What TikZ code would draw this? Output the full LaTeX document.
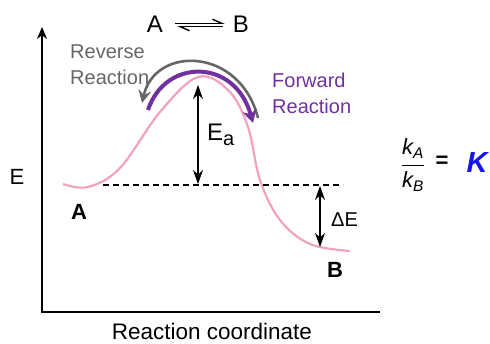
\documentclass[tikz,border=0pt]{standalone}
\usepackage{fontspec}
\setmainfont{Liberation Sans}
\usetikzlibrary{arrows.meta}
\definecolor{curvepink}{HTML}{F2A2C0}
\definecolor{revgray}{HTML}{666666}
\definecolor{fwdpurple}{HTML}{7030A0}
\definecolor{kblue}{HTML}{1414F0}
\newcommand{\fsz}[1]{\fontsize{#1}{#1}\selectfont}
\tikzset{
  txt/.style={inner sep=0pt, font=\fsz{20}},
  twoline/.style={txt, align=left, anchor=north west, font=\fontsize{20}{26}\selectfont},
  axisln/.style={line width=2.8pt},
  dbl/.style={{Stealth[length=14pt,width=10pt]}-{Stealth[length=14pt,width=10pt]}, line width=1.6pt},
  harp/.style={-{Straight Barb[left,length=9pt,width=8pt]}, line width=1.4pt},
  energy/.style={curvepink, line width=2.2pt},
  level/.style={dashed, dash pattern=on 6pt off 4pt, line width=2pt}}
\begin{document}
\begin{tikzpicture}[x=1pt, y=-1pt]
  \useasboundingbox (0,0) rectangle (490,344);
  \coordinate (ytip) at (42,27);
  \coordinate (origin) at (42,312);
  \coordinate (xend) at (380,312);
  \draw[axisln, {Stealth[length=12pt,width=10pt]}-] (ytip) -- (origin) -- (xend);
  \node[txt, font=\fsz{22.5}, anchor=base] (xlab) at (212,340) {Reaction coordinate};
  \node[txt, font=\fsz{22}, anchor=base] (ylab) at (17,185) {E};
  \draw[energy] plot[smooth, tension=0.6] coordinates {(63,184) (88,187) (120,168) (160,112) (198,77) (229,91) (248,127) (260,180) (280,220) (310,244) (350,251)};
  \coordinate (dashl) at (103,185);
  \coordinate (dashr) at (343,185);
  \draw[level] (dashl) -- (dashr);
  \coordinate (eatop) at (198,85);
  \coordinate (eabot) at (198,184);
  \draw[dbl] (eatop) -- (eabot);
  \node[txt, font=\fsz{24}, anchor=base west] (ealab) at (207,141) {E\raisebox{-5pt}{\fsz{20}a}};
  \coordinate (detop) at (320,186);
  \coordinate (debot) at (320,247);
  \draw[dbl] (detop) -- (debot);
  \node[txt, anchor=base west] (delab) at (331,227) {ΔE};
  \node[txt, font=\bfseries\fsz{22}, anchor=base] (prodA) at (79,220) {A};
  \node[txt, font=\bfseries\fsz{22}, anchor=base] (prodB) at (335,278) {B};
  \node[txt, font=\fsz{24}, anchor=base] (topA) at (155,33) {A};
  \node[txt, font=\fsz{24}, anchor=base] (topB) at (241,33) {B};
  \draw[harp] ([xshift=12pt,yshift=1.5pt]topA.east) -- ([xshift=-8pt,yshift=1.5pt]topB.west);
  \draw[harp] ([xshift=-10pt,yshift=-2pt]topB.west) -- ([xshift=14pt,yshift=-2pt]topA.east);
  \node[twoline, revgray] (revlab) at (70,45) {Reverse\\Reaction};
  \node[twoline, fwdpurple] (fwdlab) at (272,73) {Forward\\Reaction};
  \coordinate (revstart) at (258,118);
  \coordinate (revend) at (142,103);
  \draw[revgray, line width=2.6pt, -{Stealth[length=13pt,width=13pt,inset=5pt]}] (revstart) .. controls (240,47) and (155,45) .. (revend);
  \coordinate (fwdstart) at (148,110);
  \coordinate (fwdend) at (253,123);
  \draw[fwdpurple, line width=4pt, -{Stealth[length=13pt,width=14pt,inset=4pt]}] (fwdstart) .. controls (165,58) and (235,58) .. (fwdend);
  \node[txt, font=\itshape\fsz{22}, anchor=base] (kA) at (413,155) {k\textsubscript{A}};
  \node[txt, font=\itshape\fsz{22}, anchor=base] (kB) at (413,188) {k\textsubscript{B}};
  \draw[line width=1.2pt] ([yshift=-7pt]kA.south west) -- ([yshift=-7pt]kA.south east);
  \node[txt, font=\bfseries\fsz{22}] (eqsign) at (442,162) {=};
  \node[txt, kblue, font=\bfseries\itshape\fsz{29}, anchor=base] (bigK) at (477,173) {K};
\end{tikzpicture}
\end{document}
